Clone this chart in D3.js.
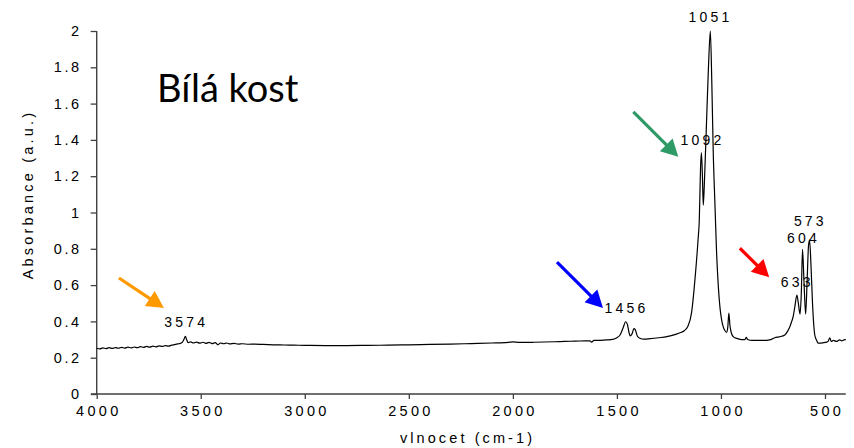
<!DOCTYPE html>
<html>
<head>
<meta charset="utf-8">
<script src="https://cdn.jsdelivr.net/npm/d3@7"></script>
<style>
html,body{margin:0;padding:0;background:#fff;}
svg{display:block;}
</style>
</head>
<body>
<svg id="chart" width="854" height="448"></svg>
<script>
// ---- data ----
const wavenumber = [
  4000,3985,3970,3955,3940,3925,3910,3895,3880,3865,3850,3835,3820,3805,3790,3775,3760,3745,3730,3715,3700,3685,3670,3655,3640,3625,3610,3598,3588,3580,3574,3568,3560,3548,3535,3520,3505,3490,3475,3460,3445,3430,3418,3405,3390,3375,3360,3340,3320,3300,3270,3240,3200,3150,3100,3050,3000,2900,2800,2700,2600,2500,2400,2300,2200,2100,2040,2000,1970,1900,1800,1750,1700,1650,1630,1622,1610,1580,1550,1520,1500,1485,1470,1458,1450,1442,1436,1428,1418,1412,1402,1390,1370,1340,1300,1260,1230,1200,1175,1160,1141,1125,1110,1104,1098,1094,1089,1085,1080,1069,1060,1051,1044,1037,1029,1021,1013,1005,997,989,981,973,967,962,957,950,940,920,900,885,878,872,850,800,760,741,720,693,680,669,660,653,645,635,628,620,614,608,601,593,586,579,574,567,560,549,540,533,510,492,485,477,470,460,445,430,420,405,400
];
const absorbance = [
  0.252,0.249,0.254,0.250,0.255,0.251,0.256,0.252,0.257,0.253,0.258,0.254,0.259,0.255,0.261,0.257,0.262,0.258,0.264,0.260,0.265,0.262,0.267,0.264,0.269,0.272,0.276,0.279,0.286,0.303,0.318,0.300,0.283,0.287,0.281,0.286,0.280,0.285,0.279,0.284,0.278,0.283,0.271,0.281,0.277,0.281,0.276,0.279,0.275,0.277,0.274,0.275,0.273,0.271,0.270,0.269,0.268,0.267,0.267,0.268,0.269,0.271,0.273,0.275,0.278,0.281,0.283,0.287,0.284,0.285,0.288,0.290,0.291,0.293,0.293,0.286,0.295,0.296,0.298,0.301,0.310,0.325,0.365,0.398,0.385,0.340,0.320,0.330,0.360,0.355,0.320,0.307,0.302,0.305,0.310,0.316,0.324,0.336,0.350,0.370,0.450,0.630,0.850,0.960,1.250,1.330,1.200,1.040,1.150,1.510,1.800,2.000,1.720,1.330,1.050,0.780,0.600,0.480,0.410,0.370,0.350,0.340,0.370,0.446,0.380,0.336,0.315,0.305,0.300,0.300,0.312,0.300,0.295,0.295,0.300,0.310,0.315,0.325,0.345,0.370,0.400,0.426,0.480,0.545,0.500,0.440,0.550,0.797,0.620,0.440,0.620,0.820,0.848,0.700,0.500,0.325,0.295,0.280,0.282,0.286,0.290,0.310,0.290,0.295,0.290,0.298,0.293,0.300,0.300
];
const xTicks = [4000,3500,3000,2500,2000,1500,1000,500];
const yTicks = [0,0.2,0.4,0.6,0.8,1,1.2,1.4,1.6,1.8,2];
const peakLabels = ["1051","1092","1456","573","604","633","3574"];
const peakLabelWn = [1058,1096,1462,578,611,641,3577];
const peakLabelAbs = [2.052,1.372,0.445,0.926,0.830,0.588,0.367];
const arrowColors = ["#FF9900","#0000FF","#2E9A66","#FF0000"];
const arrowFromWn = [3893,1788,1421,909];
const arrowFromAbs = [0.639,0.727,1.554,0.803];
const arrowToWn = [3677,1567,1205,768];
const arrowToAbs = [0.474,0.474,1.307,0.643];
const titleText = "Bílá kost";
const xTitle = "vlnocet (cm-1)";
const yTitle = "Absorbance (a.u.)";

// ---- chart ----
const svg = d3.select("#chart");
const x = d3.scaleLinear().domain([4000,400]).range([96.7,845.8]);
const y = d3.scaleLinear().domain([0,2]).range([394,31]);
const axisColor = "#404040";
const font = "'Liberation Sans', Arial, sans-serif";

// x axis
const xAxis = svg.append("g").attr("transform","translate(0,394)")
  .call(d3.axisBottom(x).tickValues(xTicks).tickSize(5).tickSizeOuter(0).tickPadding(7).tickFormat(d3.format("d")));
xAxis.select(".domain").remove();
xAxis.append("line").attr("x1",91).attr("x2",845.8).attr("y1",0).attr("y2",0)
  .attr("stroke",axisColor).attr("stroke-width",1.4);
xAxis.selectAll(".tick line").attr("stroke",axisColor).attr("stroke-width",1.3);
xAxis.selectAll(".tick text").attr("fill","#000").style("font-family",font)
  .style("font-size","14.5px").style("letter-spacing","3.3px").attr("dx","1.6px");

// y axis
const yAxis = svg.append("g").attr("transform","translate(96.7,0)")
  .call(d3.axisLeft(y).tickValues(yTicks).tickSize(6).tickSizeOuter(0).tickPadding(8).tickFormat(d3.format("~g")));
yAxis.select(".domain").remove();
yAxis.append("line").attr("x1",0).attr("x2",0).attr("y1",y(2)).attr("y2",394)
  .attr("stroke",axisColor).attr("stroke-width",1.4);
yAxis.selectAll(".tick line").attr("stroke",axisColor).attr("stroke-width",1.3);
yAxis.selectAll(".tick text").attr("fill","#000").style("font-family",font)
  .style("font-size","14.5px").style("letter-spacing","2.6px").attr("dx","-1px");

// spectrum
const pts = wavenumber.map((w,i)=>[w,absorbance[i]]);
svg.append("path").datum(pts)
  .attr("fill","none").attr("stroke","#000").attr("stroke-width",1.2)
  .attr("d", d3.line().x(d=>x(d[0])).y(d=>y(d[1])).curve(d3.curveMonotoneX));

// peak labels
svg.append("g").selectAll("text").data(peakLabels).join("text")
  .attr("x",(d,i)=>x(peakLabelWn[i])).attr("y",(d,i)=>y(peakLabelAbs[i]))
  .attr("text-anchor","middle").attr("dx","1.6px")
  .style("font-family",font).style("font-size","14px").style("letter-spacing","3.2px")
  .attr("fill","#000").text(d=>d);

// arrows
const ag = svg.append("g");
arrowColors.forEach((c,i)=>{
  const x1=x(arrowFromWn[i]), y1=y(arrowFromAbs[i]), x2=x(arrowToWn[i]), y2=y(arrowToAbs[i]);
  const ang=Math.atan2(y2-y1,x2-x1), L=17, W=9;
  const bx=x2-L*Math.cos(ang), by=y2-L*Math.sin(ang);
  ag.append("line").attr("x1",x1).attr("y1",y1).attr("x2",bx+2*Math.cos(ang)).attr("y2",by+2*Math.sin(ang))
    .attr("stroke",c).attr("stroke-width",3.2);
  const px=-Math.sin(ang), py=Math.cos(ang);
  ag.append("polygon").attr("fill",c)
    .attr("points",[[x2,y2],[bx+W*px,by+W*py],[bx-W*px,by-W*py]].map(p=>p.join(",")).join(" "));
});

// title
svg.append("text").attr("x",157).attr("y",101.5)
  .style("font-family","Lato, 'Open Sans', sans-serif").style("font-size","38px")
  .attr("fill","#000").text(titleText);

// axis titles
svg.append("text").attr("x",466).attr("y",443).attr("text-anchor","middle").attr("dx","1.5px")
  .style("font-family",font).style("font-size","14.5px").style("letter-spacing","3.1px")
  .attr("fill","#000").text(xTitle);
svg.append("text").attr("transform","translate(33,196) rotate(-90)").attr("text-anchor","middle").attr("dx","1.5px")
  .style("font-family",font).style("font-size","14.5px").style("letter-spacing","3.2px")
  .attr("fill","#000").text(yTitle);
</script>
</body>
</html>
